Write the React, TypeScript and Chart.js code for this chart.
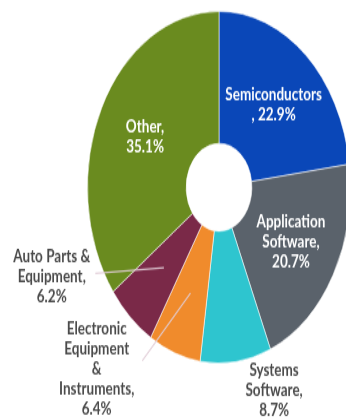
import React, { useEffect, useRef } from "react";
import { Chart, registerables } from "chart.js";

Chart.register(...registerables);

const categories = [
  "Semiconductors",
  "Application Software",
  "Systems Software",
  "Electronic Equipment & Instruments",
  "Auto Parts & Equipment",
  "Other",
];
const values = [22.9, 20.7, 8.7, 6.4, 6.2, 35.1];
const colors = ["#0a47b8", "#5a626b", "#2ec5cf", "#f08b2c", "#7a2948", "#6a8b1f"];
// label lines; {v} is replaced by the value
const labelLines = [
  ["Semiconductors", ", {v}"],
  ["Application", "Software,", "{v}"],
  ["Systems", "Software,", "{v}"],
  ["Electronic", "Equipment", "&", "Instruments,", "{v}"],
  ["Auto Parts &", "Equipment,", "{v}"],
  ["Other,", "{v}"],
];
const labelInside = [true, true, false, false, false, true];
// for outside labels: angle (deg clockwise from top) and radius factor of text centre
const outsideAngle = [0, 0, 160, 222, 248.4, 0];
const outsideRadius = [0, 0, 1.225, 1.39, 1.368, 0];
// leader lines: from arc mid (radius factor) to point (angle, radius factor)
const leaderFrom = [0, 0, 0, 0.64, 0.62, 0];
const leaderToAngle = [0, 0, 0, 210.6, 242.5, 0];
const leaderToRadius = [0, 0, 0, 1.145, 1.06, 0];

const SCALE_Y = 1.3376;
const FONT = "Lato, 'Open Sans', sans-serif";

const labelPlugin = {
  id: "sliceLabels",
  afterDatasetsDraw(chart: any) {
    const ctx = chart.ctx;
    const meta = chart.getDatasetMeta(0);
    ctx.save();
    meta.data.forEach((arc: any, i: number) => {
      const cx = arc.x;
      const cy = arc.y;
      const R = arc.outerRadius;
      const mid = (arc.startAngle + arc.endAngle) / 2;
      // leader line
      if (leaderFrom[i] > 0) {
        const a2 = ((leaderToAngle[i] - 90) * Math.PI) / 180;
        ctx.beginPath();
        ctx.moveTo(cx + Math.cos(mid) * R * leaderFrom[i], cy + Math.sin(mid) * R * leaderFrom[i]);
        ctx.lineTo(cx + Math.cos(a2) * R * leaderToRadius[i], cy + Math.sin(a2) * R * leaderToRadius[i]);
        ctx.strokeStyle = "rgba(225,205,215,0.9)";
        ctx.lineWidth = 1.2;
        ctx.stroke();
      }
      let px: number, py: number;
      if (labelInside[i]) {
        px = cx + Math.cos(mid) * R * 0.63;
        py = cy + Math.sin(mid) * R * 0.63;
        ctx.fillStyle = "#ffffff";
      } else {
        const a = ((outsideAngle[i] - 90) * Math.PI) / 180;
        px = cx + Math.cos(a) * R * outsideRadius[i];
        py = cy + Math.sin(a) * R * outsideRadius[i];
        ctx.fillStyle = "#4b4b4b";
      }
      const lines = labelLines[i].map((s) => s.replace("{v}", values[i].toFixed(1) + "%"));
      const lh = 15;
      ctx.font = `bold 13.5px ${FONT}`;
      ctx.textAlign = "center";
      ctx.textBaseline = "middle";
      const top = py - ((lines.length - 1) * lh) / 2;
      lines.forEach((l, k) => ctx.fillText(l, px, top + k * lh));
    });
    ctx.restore();
  },
};

export default function App() {
  const ref = useRef<HTMLCanvasElement>(null);
  useEffect(() => {
    const chart = new Chart(ref.current!, {
      type: "doughnut",
      data: {
        labels: categories,
        datasets: [
          {
            data: values,
            backgroundColor: colors,
            borderColor: "rgba(255,255,255,0.55)",
            borderWidth: 1,
          },
        ],
      },
      options: {
        responsive: false,
        animation: false,
        cutout: "25%",
        layout: { padding: { left: 87, right: 9, top: 8, bottom: 42 } },
        plugins: { legend: { display: false }, tooltip: { enabled: false } },
      },
      plugins: [labelPlugin],
    });
    return () => chart.destroy();
  }, []);
  return (
    <div
      style={{
        position: "absolute",
        left: 0,
        top: 0,
        width: 346,
        height: 420,
        overflow: "hidden",
        background: "#fff",
      }}
    >
      <canvas
        ref={ref}
        width={360}
        height={314}
        style={{
          width: "360px",
          height: "314px",
          display: "block",
          transform: `scaleY(${SCALE_Y})`,
          transformOrigin: "0 0",
        }}
      />
    </div>
  );
}
